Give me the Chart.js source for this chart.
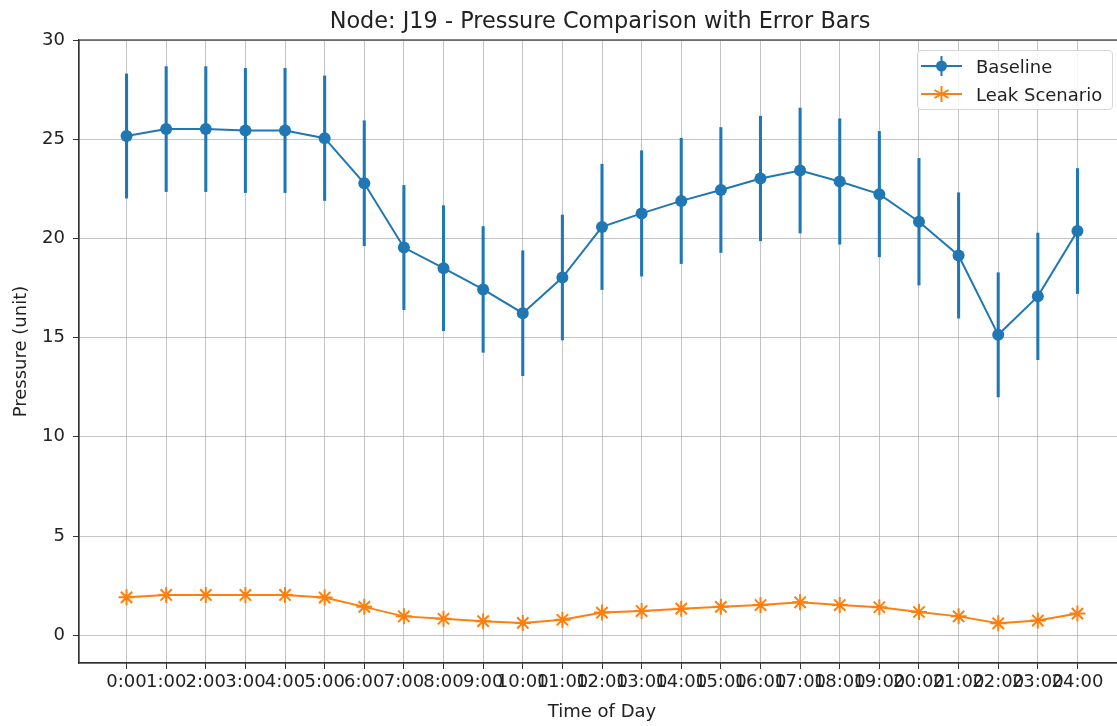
<!DOCTYPE html>
<html>
<head>
<meta charset="utf-8">
<script src="https://cdn.jsdelivr.net/npm/chart.js@4/dist/chart.umd.min.js"></script>
<style>
  html, body { margin: 0; padding: 0; background: #fff; overflow: hidden; }
  #wrap { position: relative; width: 1117px; height: 726px; overflow: hidden; }
  #chart { position: absolute; left: 0; top: 0; }
  .title {
    position: absolute; left: 400px; width: 400px; top: 6px; text-align: center;
    white-space: nowrap; font-family: "DejaVu Sans", sans-serif; font-size: 22.4px;
    line-height: 28px; color: #222;
    display: flex; justify-content: center;
  }
  .legend {
    position: absolute; left: 917px; top: 50px; width: 196px; height: 60px;
    box-sizing: border-box; border: 1px solid #d6d6d6; border-radius: 4px;
    background: rgba(255,255,255,0.85);
    font-family: "DejaVu Sans", sans-serif; font-size: 18px; color: #222;
    padding-top: 1px;
  }
  .legend .row { display: flex; align-items: center; height: 28px; }
  .legend svg { margin-left: 3px; margin-right: 14px; }
</style>
</head>
<body>
<div id="wrap">
  <canvas id="chart" width="1135" height="726"></canvas>
  <div class="title">Node: J19 - Pressure Comparison with Error Bars</div>
  <div class="legend">
    <div class="row">
      <svg width="41" height="24" viewBox="0 0 41 24">
        <line x1="0" y1="12" x2="41" y2="12" stroke="#1f77b4" stroke-width="2"/>
        <line x1="20.5" y1="2" x2="20.5" y2="22" stroke="#1f77b4" stroke-width="2"/>
        <circle cx="20.5" cy="12" r="5.5" fill="#1f77b4"/>
      </svg>
      <span>Baseline</span>
    </div>
    <div class="row">
      <svg width="41" height="24" viewBox="0 0 41 24">
        <line x1="0" y1="12" x2="41" y2="12" stroke="#ff7f0e" stroke-width="2"/>
        <g stroke="#ff7f0e" stroke-width="2">
          <line x1="20.5" y1="4" x2="20.5" y2="20"/>
          <line x1="13.5" y1="8" x2="27.5" y2="16"/>
          <line x1="13.5" y1="16" x2="27.5" y2="8"/>
        </g>
      </svg>
      <span>Leak Scenario</span>
    </div>
  </div>
</div>
<script>
// ===== DATA =====
const hourLabels = ['0:00', '1:00', '2:00', '3:00', '4:00', '5:00', '6:00', '7:00', '8:00', '9:00',
    '10:00', '11:00', '12:00', '13:00', '14:00', '15:00', '16:00', '17:00', '18:00', '19:00',
    '20:00', '21:00', '22:00', '23:00', '24:00'];
const baseline = [25.16, 25.51, 25.51, 25.44, 25.44, 25.05, 22.78, 19.54, 18.50, 17.43,
    16.23, 18.03, 20.58, 21.26, 21.89, 22.44, 23.02, 23.42, 22.87, 22.23,
    20.84, 19.14, 15.14, 17.08, 20.37];
const baselineErr = [3.13, 3.15, 3.15, 3.13, 3.13, 3.14, 3.15, 3.13, 3.15, 3.17,
    3.15, 3.15, 3.16, 3.16, 3.16, 3.15, 3.14, 3.15, 3.16, 3.16,
    3.19, 3.16, 3.13, 3.19, 3.15];
const leak = [1.91, 2.03, 2.03, 2.03, 2.03, 1.90, 1.43, 0.95, 0.83, 0.71,
    0.62, 0.78, 1.14, 1.22, 1.34, 1.43, 1.52, 1.66, 1.52, 1.41,
    1.17, 0.95, 0.60, 0.74, 1.09];
const yTicks = [0, 5, 10, 15, 20, 25, 30];

const BLUE = '#1f77b4';
const ORANGE = '#ff7f0e';
const GRID = 'rgba(176,176,176,0.75)';
const FONT = '"DejaVu Sans", sans-serif';

// draws the top/right spines round the plot area
const frame = {
    id: 'frame',
    afterDraw(chart) {
        const { ctx, chartArea: a } = chart;
        ctx.save();
        ctx.strokeStyle = '#333';
        ctx.lineWidth = 1.2;
        ctx.strokeRect(a.left, a.top, a.right - a.left, a.bottom - a.top);
        ctx.restore();
    }
};

const toXY = arr => arr.map((v, i) => ({ x: i, y: v }));

new Chart(document.getElementById('chart'), {
    data: {
        datasets: [
            {
                type: 'line',
                label: 'Baseline',
                data: toXY(baseline),
                borderColor: BLUE, backgroundColor: BLUE,
                borderWidth: 2, pointRadius: 6, pointHoverRadius: 6,
                pointBorderWidth: 0, tension: 0, order: 1
            },
            {
                type: 'bar',
                label: 'Baseline error',
                data: baseline.map((v, i) => ({ x: i, y: [v - baselineErr[i], v + baselineErr[i]] })),
                backgroundColor: BLUE, borderWidth: 0,
                barThickness: 2.4, order: 2
            },
            {
                type: 'line',
                label: 'Leak Scenario',
                data: toXY(leak),
                borderColor: ORANGE, backgroundColor: ORANGE,
                borderWidth: 2, pointStyle: 'star', pointRadius: 8, pointHoverRadius: 8,
                pointBorderWidth: 2, tension: 0, order: 0
            }
        ]
    },
    options: {
        responsive: false,
        animation: false,
        layout: { padding: { left: 0, right: 4, top: 40, bottom: 0 } },
        plugins: {
            legend: { display: false },
            tooltip: { enabled: false },
            title: { display: false }
        },
        scales: {
            x: {
                type: 'linear',
                min: -1.2, max: 25.2,
                offset: false,
                afterBuildTicks: axis => { axis.ticks = hourLabels.map((_, i) => ({ value: i })); },
                afterFit: axis => { axis.height = 63; },
                ticks: {
                    autoSkip: false, maxRotation: 0, minRotation: 0,
                    color: '#222', padding: 3,
                    font: { family: FONT, size: 18 },
                    callback: v => hourLabels[v]
                },
                grid: { offset: false, color: GRID, lineWidth: 1, tickColor: '#333', tickLength: 6 },
                border: { display: true, color: '#333', width: 1.2 },
                title: {
                    display: true, text: 'Time of Day', color: '#222',
                    font: { family: FONT, size: 18 }, padding: { top: 0, bottom: 3 }
                }
            },
            y: {
                min: -1.4, max: 30,
                afterBuildTicks: axis => { axis.ticks = yTicks.map(v => ({ value: v })); },
                afterFit: axis => { axis.width = 79; },
                ticks: {
                    color: '#222', padding: 8,
                    font: { family: FONT, size: 18 }
                },
                grid: { color: GRID, lineWidth: 1, tickColor: '#333', tickLength: 6 },
                border: { display: true, color: '#333', width: 1.2 },
                title: {
                    display: true, text: 'Pressure (unit)', color: '#222',
                    font: { family: FONT, size: 18 }, padding: { top: 10.5, bottom: 0 }
                }
            }
        }
    },
    plugins: [frame]
});
</script>
</body>
</html>
